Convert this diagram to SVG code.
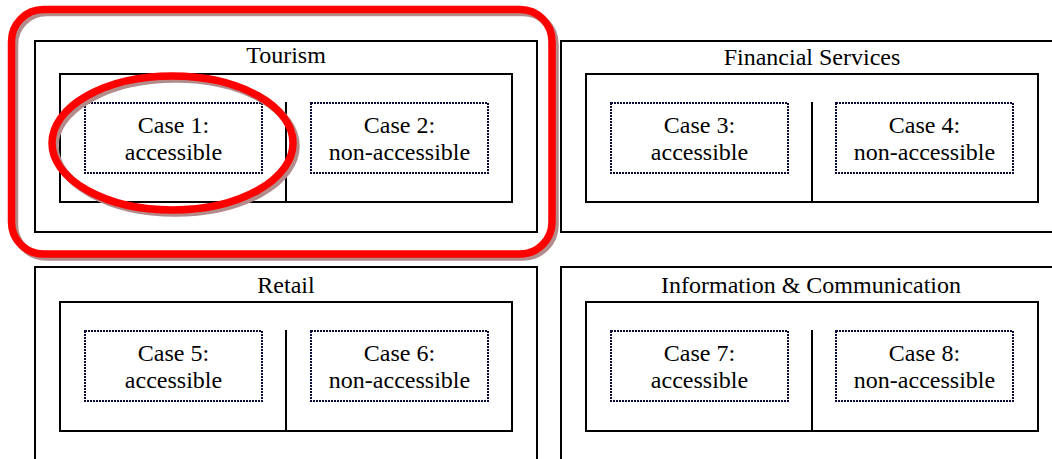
<svg xmlns="http://www.w3.org/2000/svg" width="1052" height="459" viewBox="0 0 1052 459">
<style>
.bg{fill:#fff}
.box{fill:none;stroke:#000;stroke-width:2}
.dot{fill:none;stroke:#0a0a3c;stroke-width:2;stroke-dasharray:2 1}
.t{font-family:"Liberation Serif","Times New Roman",serif;font-size:24px;fill:#000;text-anchor:middle}
.red{fill:none;stroke:#ff0000;stroke-width:7.5}
.sh{fill:none;stroke:#b38b8b;stroke-width:7.5}
</style>
<rect class="bg" x="0" y="0" width="1052" height="459"/>
<g id="tourism">
<rect class="box" x="35" y="41" width="502" height="191"/>
<text class="t" x="286" y="63">Tourism</text>
<rect class="box" x="60" y="74" width="452" height="128"/>
<line class="box" x1="286" y1="102" x2="286" y2="202"/>
</g>
<g id="case1"><rect class="dot" x="85" y="103" width="177" height="70"/><text class="t" x="173.5" y="133">Case 1:</text><text class="t" x="173.5" y="160">accessible</text></g>
<g id="case2"><rect class="dot" x="311" y="103" width="177" height="70"/><text class="t" x="399.5" y="133">Case 2:</text><text class="t" x="399.5" y="160">non-accessible</text></g>
<g id="financial">
<rect class="box" x="561" y="41" width="502" height="191"/>
<text class="t" x="812" y="65">Financial Services</text>
<rect class="box" x="586" y="74" width="452" height="128"/>
<line class="box" x1="812" y1="102" x2="812" y2="202"/>
</g>
<g id="case3"><rect class="dot" x="611" y="103" width="177" height="70"/><text class="t" x="699.5" y="133">Case 3:</text><text class="t" x="699.5" y="160">accessible</text></g>
<g id="case4"><rect class="dot" x="836" y="103" width="177" height="70"/><text class="t" x="924.5" y="133">Case 4:</text><text class="t" x="924.5" y="160">non-accessible</text></g>
<g id="retail">
<rect class="box" x="35" y="267" width="502" height="200"/>
<text class="t" x="286" y="293">Retail</text>
<rect class="box" x="60" y="302" width="452" height="129"/>
<line class="box" x1="286" y1="330" x2="286" y2="431"/>
</g>
<g id="case5"><rect class="dot" x="85" y="331" width="177" height="70"/><text class="t" x="173.5" y="361">Case 5:</text><text class="t" x="173.5" y="388">accessible</text></g>
<g id="case6"><rect class="dot" x="311" y="331" width="177" height="70"/><text class="t" x="399.5" y="361">Case 6:</text><text class="t" x="399.5" y="388">non-accessible</text></g>
<g id="infocomm">
<rect class="box" x="561" y="267" width="502" height="200"/>
<text class="t" x="811" y="293">Information &amp; Communication</text>
<rect class="box" x="586" y="302" width="452" height="129"/>
<line class="box" x1="812" y1="330" x2="812" y2="431"/>
</g>
<g id="case7"><rect class="dot" x="611" y="331" width="177" height="70"/><text class="t" x="699.5" y="361">Case 7:</text><text class="t" x="699.5" y="388">accessible</text></g>
<g id="case8"><rect class="dot" x="836" y="331" width="177" height="70"/><text class="t" x="924.5" y="361">Case 8:</text><text class="t" x="924.5" y="388">non-accessible</text></g>
<g id="highlights">
<rect class="sh" x="14.5" y="12.5" width="540.5" height="244.5" rx="32"/>
<rect class="red" x="11.5" y="9.5" width="540.5" height="244.5" rx="32"/>
<ellipse class="sh" cx="175.5" cy="146" rx="120.5" ry="67"/>
<ellipse class="red" cx="172.5" cy="143" rx="120.5" ry="67"/>
</g>
</svg>
